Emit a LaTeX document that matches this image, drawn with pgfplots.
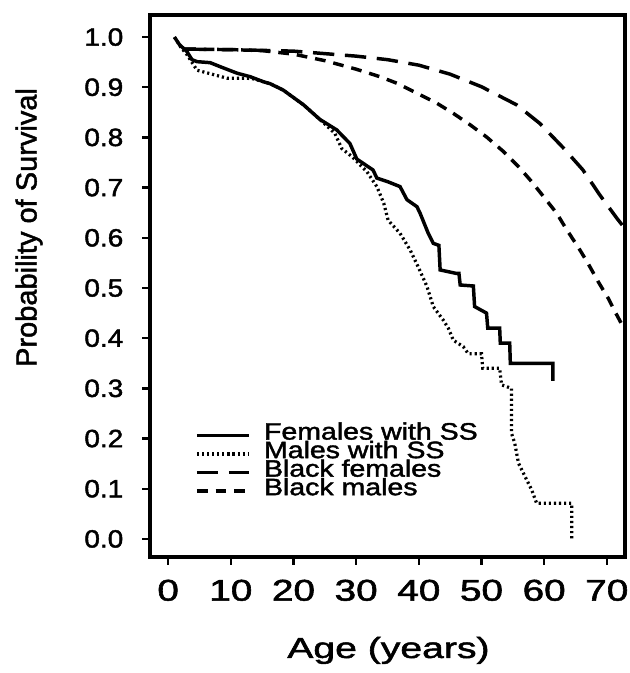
\documentclass[border=0pt]{standalone}
\usepackage{pgfplots}
\pgfplotsset{compat=1.18}
\usepackage{fontspec}
\setmainfont{Liberation Sans}
\newfontfamily\thick{Liberation Sans}[FakeBold=1.6]
\usepackage{graphicx}
\newcommand{\xt}[1]{\scalebox{1.29}[1]{#1}}
\newcommand{\yt}[1]{\scalebox{1.12}[1]{#1}}
\newcommand{\lgd}[1]{\scalebox{1.2}[1]{#1}}
\begin{document}
\begin{tikzpicture}
\useasboundingbox (-112.5pt,-87pt) rectangle (360pt,417.75pt);
\begin{axis}[
  scale only axis, width=356.25pt, height=406.5pt,
  xmin=-2.9, xmax=72.9, ymin=-0.036, ymax=1.044,
  axis line style={line width=2.4pt},
  tick pos=left, tick align=outside, major tick length=6pt,
  every tick/.style={black, line width=1.8pt},
  xtick={0,10,20,30,40,50,60,70},
  xticklabels={\xt{0},\xt{10},\xt{20},\xt{30},\xt{40},\xt{50},\xt{60},\xt{70}},
  ytick={0,0.1,0.2,0.3,0.4,0.5,0.6,0.7,0.8,0.9,1.0},
  yticklabels={\yt{0.0},\yt{0.1},\yt{0.2},\yt{0.3},\yt{0.4},\yt{0.5},\yt{0.6},\yt{0.7},\yt{0.8},\yt{0.9},\yt{1.0}},
  x tick label style={font=\thick\fontsize{22.5}{22.5}\selectfont, yshift=-7.5pt},
  y tick label style={font=\thick\fontsize{18.75}{18.75}\selectfont, xshift=-10.5pt},
  xlabel={\scalebox{1.35}[1]{Age (years)}},
  ylabel={Probability of Survival},
  every axis x label/.style={at={(rel axis cs:0.502,-0.1863)}, anchor=base, font=\thick\fontsize{21.75}{21.75}\selectfont},
  every axis y label/.style={at={(rel axis cs:-0.2547,0.608)}, rotate=90, anchor=center, font=\thick\fontsize{21.75}{21.75}\selectfont},
  legend style={at={(rel axis cs:0.0947,0.2417)}, anchor=north west, draw=none, fill=none, inner sep=0pt, column sep=10pt,
    font=\thick\fontsize{17.8}{17.8}\selectfont, nodes={inner sep=0pt, text height=10pt, text depth=3.9pt, anchor=west}},
  legend cell align=left,
  legend image code/.code={\draw[#1] (0pt,0pt) -- (39pt,0pt);},
]
\addplot[black, line width=2.6pt, line join=miter] coordinates {
(1,1.0) (1.8,0.985) (3,0.971) (3.8,0.955) (4.6,0.951) (6.7,0.949) (8.3,0.941) (11,0.928) (13.1,0.921) (15.2,0.911) (16.3,0.907) (18.4,0.894) (19.5,0.884) (21.6,0.865) (24.2,0.836) (26.9,0.815) (29,0.788) (30.1,0.757) (32.7,0.735) (33.3,0.719) (35,0.712) (37,0.702) (38.1,0.676) (39.7,0.662) (40.2,0.649) (41.5,0.609) (42.3,0.589) (43.2,0.585) (43.4,0.536) (46.0,0.529) (46.4,0.529) (46.6,0.506) (48.7,0.504) (48.9,0.463) (50.8,0.450) (51.0,0.420) (52.9,0.420) (53.0,0.390) (54.5,0.390) (54.6,0.350) (61.4,0.350) (61.4,0.315)
};
\addlegendentry{\lgd{Females with SS}}
\addplot[black, line width=2.4pt, dash pattern=on 1.6pt off 2.2pt] coordinates {
(1,1.0) (2,0.98) (3,0.965) (4.6,0.934) (6.4,0.928) (9.4,0.918) (12.5,0.918) (13.5,0.917) (15.2,0.911) (16.3,0.907) (18.4,0.894) (19.5,0.884) (21.6,0.865) (24.2,0.836) (26.6,0.808) (27.7,0.778) (29.3,0.762) (31.7,0.732) (33.3,0.702) (34.4,0.669) (35.1,0.635) (37.0,0.609) (38.6,0.576) (39.9,0.542) (41.3,0.503) (42.3,0.463) (43.9,0.436) (44.7,0.420) (45.5,0.396) (47.1,0.383) (47.9,0.369) (50.0,0.369) (50.2,0.340) (52.9,0.340) (53.2,0.307) (54.8,0.300) (54.8,0.21) (55.3,0.191) (55.9,0.151) (57.2,0.118) (58.0,0.098) (58.8,0.071) (64.4,0.071) (64.4,0.0)
};
\addlegendentry{\lgd{Males with SS}}
\addplot[black, line width=2.6pt, dash pattern=on 16pt off 8pt] coordinates {
(2.7,0.976) (10,0.975) (20,0.972) (25,0.967) (30,0.962) (35,0.955) (40,0.944) (45,0.926) (50,0.901) (55.6,0.865) (59.3,0.828) (63,0.78) (66.2,0.735) (68.9,0.685) (71.6,0.639) (72.8,0.62)
};
\addlegendentry{\lgd{Black females}}
\addplot[black, line width=2.6pt, dash pattern=on 8pt off 6pt] coordinates {
(2.7,0.976) (10,0.975) (15,0.973) (20,0.966) (25,0.953) (30,0.936) (33.8,0.921) (36.5,0.908) (39.7,0.888) (42.9,0.868) (45.5,0.848) (48.2,0.825) (50.8,0.801) (53.5,0.772) (55.9,0.742) (58.0,0.712) (60.1,0.679) (62.0,0.649) (63.6,0.616) (65.4,0.582) (67.0,0.549) (68.6,0.513) (70.2,0.480) (71.6,0.446) (72.5,0.425)
};
\addlegendentry{\lgd{Black males}}
\end{axis}
\end{tikzpicture}
\end{document}
